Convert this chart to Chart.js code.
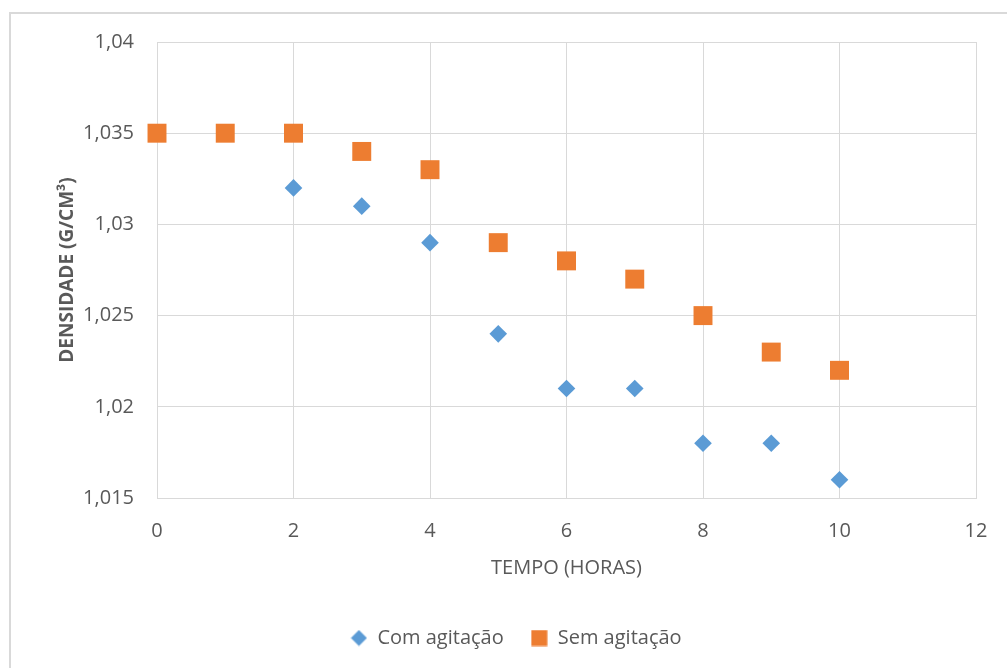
<!DOCTYPE html>
<html>
<head>
<meta charset="utf-8">
<script src="https://cdn.jsdelivr.net/npm/chart.js@4"></script>
<style>
  html, body { margin: 0; padding: 0; background: #fff; overflow: hidden; }
  #frame { position: absolute; left: 9px; top: 12px; width: 1010px; height: 680px; border: 2px solid #d9d9d9; }
  #wrap { position: absolute; left: 0; top: 0; width: 1007px; height: 668px; }
</style>
</head>
<body>
<div id="frame"></div>
<div id="wrap"><canvas id="chart" width="1007" height="668"></canvas></div>
<script>
// Tempo (horas) e densidade (g/cm³)
const tempoCom = [0, 1, 2, 3, 4, 5, 6, 7, 8, 9, 10];
const densCom = [1.035, 1.035, 1.032, 1.031, 1.029, 1.024, 1.021, 1.021, 1.018, 1.018, 1.016];
const tempoSem = [0, 1, 2, 3, 4, 5, 6, 7, 8, 9, 10];
const densSem = [1.035, 1.035, 1.035, 1.034, 1.033, 1.029, 1.028, 1.027, 1.025, 1.023, 1.022];
const seriesNames = ['Com agitação', 'Sem agitação'];

const azul = '#5b9bd5';
const laranja = '#ed7d31';
const texto = '#595959';
const grade = '#d9d9d9';
const fonte = "'Open Sans', sans-serif";

function toPoints(xs, ys) {
    return xs.map((x, i) => ({ x: x, y: ys[i] }));
}

// small legend markers (diamond / square) drawn on their own canvas
function marker(kind, color) {
    const c = document.createElement('canvas');
    c.width = 17; c.height = 17;
    const g = c.getContext('2d');
    g.fillStyle = color;
    if (kind === 'diamond') {
        g.beginPath();
        g.moveTo(8.5, 0.5); g.lineTo(16.5, 8.5); g.lineTo(8.5, 16.5); g.lineTo(0.5, 8.5);
        g.closePath();
        g.fill();
    } else {
        g.fillRect(0.5, 0.5, 16, 16);
    }
    return c;
}

const fmt = v => parseFloat(Number(v).toFixed(3)).toString().replace('.', ',');

new Chart(document.getElementById('chart'), {
    type: 'scatter',
    data: {
        datasets: [{
            label: seriesNames[0],
            data: toPoints(tempoCom, densCom),
            order: 2,
            clip: false,
            pointStyle: 'rectRot',
            pointRadius: 8.8,
            pointHoverRadius: 8.8,
            backgroundColor: azul,
            borderColor: azul,
            borderWidth: 0
        }, {
            label: seriesNames[1],
            data: toPoints(tempoSem, densSem),
            order: 1,
            clip: false,
            pointStyle: 'rect',
            pointRadius: 13.4,
            pointHoverRadius: 13.4,
            backgroundColor: laranja,
            borderColor: laranja,
            borderWidth: 0
        }]
    },
    options: {
        responsive: false,
        animation: false,
        layout: { padding: { left: 56, right: 31, top: 42, bottom: 10 } },
        plugins: {
            tooltip: { enabled: false },
            legend: {
                position: 'bottom',
                labels: {
                    color: texto,
                    font: { family: fonte, size: 20 },
                    usePointStyle: true,
                    boxWidth: 17,
                    boxHeight: 17,
                    padding: 27,
                    sort: (a, b) => a.datasetIndex - b.datasetIndex,
                    generateLabels: function (chart) {
                        const items = Chart.defaults.plugins.legend.labels.generateLabels(chart);
                        items.forEach(it => {
                            it.pointStyle = it.datasetIndex === 0 ? marker('diamond', azul) : marker('square', laranja);
                        });
                        return items;
                    }
                }
            }
        },
        scales: {
            x: {
                type: 'linear',
                min: 0,
                max: 12,
                ticks: { stepSize: 2, color: texto, font: { family: fonte, size: 20 }, padding: 21 },
                grid: { color: grade, drawTicks: false },
                border: { color: grade },
                title: {
                    display: true,
                    text: 'TEMPO (HORAS)',
                    color: texto,
                    font: { family: fonte, size: 20 },
                    padding: { top: 0, bottom: 21 }
                },
                afterFit: function (scale) {
                    scale.height = 103;
                    scale.paddingLeft = 0;
                    scale.paddingRight = 0;
                }
            },
            y: {
                min: 1.015,
                max: 1.04,
                ticks: { stepSize: 0.005, color: texto, font: { family: fonte, size: 20 }, padding: 23, callback: fmt },
                grid: { color: grade, drawTicks: false },
                border: { color: grade },
                title: {
                    display: true,
                    text: 'DENSIDADE (G/CM³)',
                    color: texto,
                    font: { family: fonte, size: 19, weight: 'bold' },
                    padding: { top: 0, bottom: 0 }
                },
                afterFit: function (scale) { scale.width = 101; }
            }
        }
    }
});
</script>
</body>
</html>
